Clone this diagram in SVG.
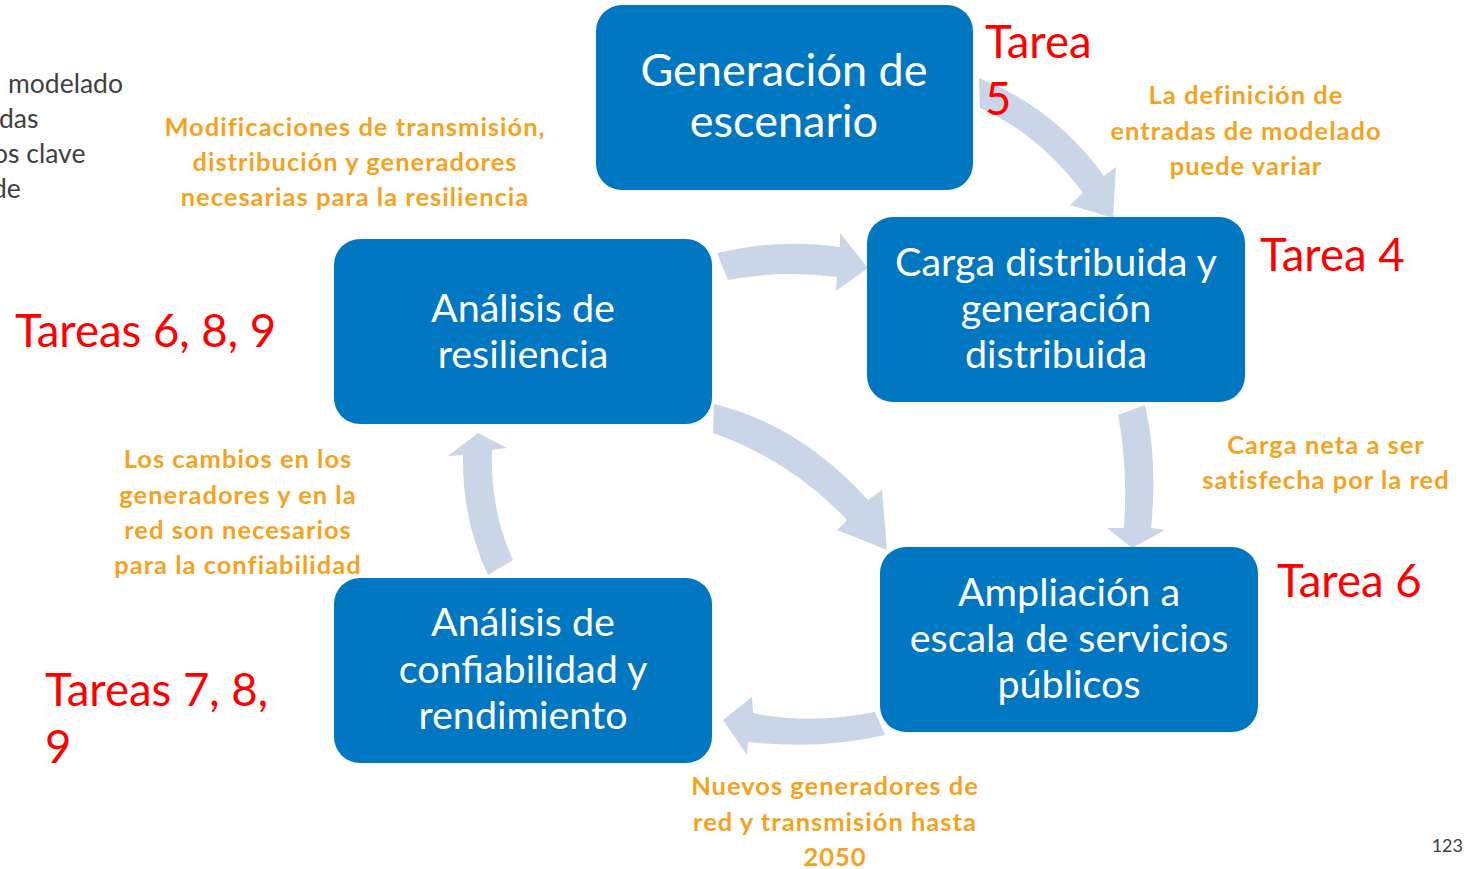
<svg xmlns="http://www.w3.org/2000/svg" width="1464" height="869" viewBox="0 0 1464 869">
<style>
.box{fill:#0077C0}
.bt{font-family:Lato,"Open Sans","Liberation Sans",sans-serif;fill:#fff;text-anchor:middle;font-size:39.5px}
.red{font-family:Lato,"Open Sans","Liberation Sans",sans-serif;fill:#FF0000;font-size:45.5px}
.or{font-family:Lato,"Open Sans","Liberation Sans",sans-serif;font-weight:bold;fill:#F5A31F;font-size:25.5px;letter-spacing:1px;text-anchor:middle}
.gr{font-family:Lato,"Open Sans","Liberation Sans",sans-serif;fill:#404040;font-size:26.5px}
.arr{fill:#CAD5E7}
</style>
<rect width="1464" height="869" fill="#fff"/>
<g id="connectors">
<path class="arr" d="M979,78 Q1055,108 1104,176 L1116,167 L1113,218 L1070,205 L1083,193 Q1040,135 980,108 Z"/>
<path class="arr" d="M717,253 Q780,238 840,247 L840,233 L868,268 L836,291 L837,277 Q780,270 728,280 Z"/>
<path class="arr" d="M714,404 Q800,425 868,500 L882,490 L887,550 L837,530 L847,520 Q790,460 713,433 Z"/>
<path class="arr" d="M1145,405 Q1158,460 1151,528 L1165,530 L1132,548 L1107,528 L1124,528 Q1128,465 1118,415 Z"/>
<path class="arr" d="M875,712 Q810,725 753,713 L752,697 L723,720 L747,755 L748,742 Q820,750 885,735 Z"/>
<path class="arr" d="M488,575 Q462,520 463,455 L448,456 L478,433 L507,448 L492,450 Q490,510 513,560 Z"/>
</g>
<g id="n-generacion">
<rect class="box" x="596" y="5" width="377" height="185" rx="26"/>
<text class="bt" style="font-size:45px" x="784" y="86">Generación de</text>
<text class="bt" style="font-size:45px" x="784" y="137">escenario</text>
</g>
<g id="n-carga">
<rect class="box" x="867" y="217" width="378" height="185" rx="26"/>
<text class="bt" x="1056" y="276">Carga distribuida y</text>
<text class="bt" x="1056" y="322">generación</text>
<text class="bt" x="1056" y="368">distribuida</text>
</g>
<g id="n-resiliencia">
<rect class="box" x="334" y="239" width="378" height="185" rx="26"/>
<text class="bt" x="523" y="322">Análisis de</text>
<text class="bt" x="523" y="368">resiliencia</text>
</g>
<g id="n-ampliacion">
<rect class="box" x="880" y="547" width="378" height="185" rx="26"/>
<text class="bt" x="1069" y="606">Ampliación a</text>
<text class="bt" x="1069" y="652">escala de servicios</text>
<text class="bt" x="1069" y="698">públicos</text>
</g>
<g id="n-confiabilidad">
<rect class="box" x="334" y="578" width="378" height="185" rx="26"/>
<text class="bt" x="523" y="636">Análisis de</text>
<text class="bt" x="523" y="683">confiabilidad y</text>
<text class="bt" x="523" y="729">rendimiento</text>
</g>
<g id="labels">
<text class="red" x="985" y="58">Tarea</text>
<text class="red" x="985" y="115">5</text>
<text class="red" x="1260" y="271">Tarea 4</text>
<text class="red" x="15" y="347">Tareas 6, 8, 9</text>
<text class="red" x="1277" y="597">Tarea 6</text>
<text class="red" x="45" y="706">Tareas 7, 8,</text>
<text class="red" x="45" y="763">9</text>
<text class="or" x="1246" y="104">La definición de</text>
<text class="or" x="1246" y="140">entradas de modelado</text>
<text class="or" x="1246" y="175">puede variar</text>
<text class="or" x="355" y="136">Modificaciones de transmisión,</text>
<text class="or" x="355" y="171">distribución y generadores</text>
<text class="or" x="355" y="206">necesarias para la resiliencia</text>
<text class="or" x="238" y="468">Los cambios en los</text>
<text class="or" x="238" y="504">generadores y en la</text>
<text class="or" x="238" y="539">red son necesarios</text>
<text class="or" x="238" y="574">para la confiabilidad</text>
<text class="or" x="1326" y="454">Carga neta a ser</text>
<text class="or" x="1326" y="489">satisfecha por la red</text>
<text class="or" x="835" y="795">Nuevos generadores de</text>
<text class="or" x="835" y="831">red y transmisión hasta</text>
<text class="or" x="835" y="866">2050</text>
<text class="gr" x="8" y="93">modelado</text>
<text class="gr" x="-1" y="128">das</text>
<text class="gr" x="-7" y="163">os clave</text>
<text class="gr" x="-8" y="198">de</text>
<text class="gr" style="font-size:18px" text-anchor="end" x="1463" y="852">123</text>
</g>
</svg>
